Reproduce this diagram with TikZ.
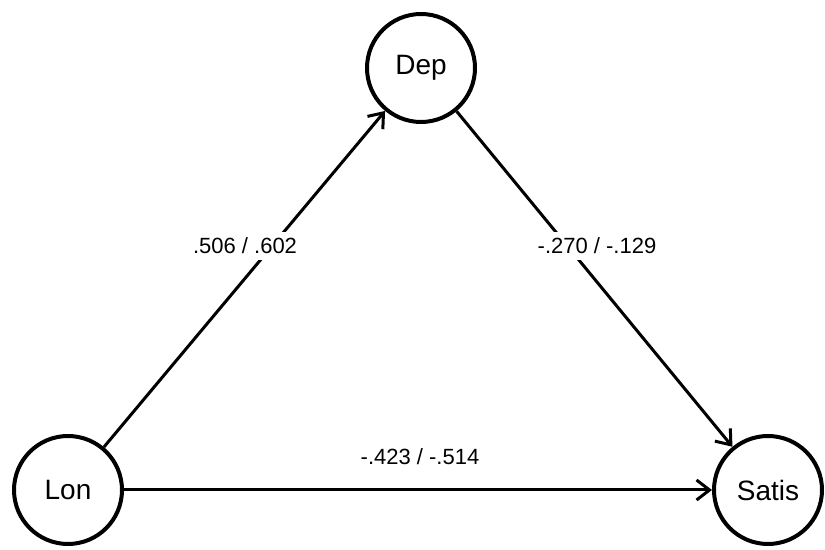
\documentclass[tikz,border=0pt]{standalone}
\usepackage{fontspec}
\setmainfont{Liberation Sans}
\usetikzlibrary{arrows.meta}
\begin{document}
\begin{tikzpicture}[x=0.5pt,y=-0.5pt,
  var/.style={circle,draw=black,line width=2pt,minimum size=54pt,inner sep=0pt,font=\fontsize{14}{16}\selectfont},
  path/.style={line width=1.5pt,-{Straight Barb[length=6.5pt,width=10pt,line width=1.5pt]}},
  coef/.style={fill=white,inner sep=3pt,font=\fontsize{11}{13}\selectfont}]
\useasboundingbox (0,0) rectangle (825,550);
\node[var] (dep) at (421,68) {Dep};
\node[var] (lon) at (68,490) {Lon};
\node[var] (satis) at (768,490) {Satis};
\draw[path] (lon) -- (dep);
\draw[path] (dep) -- (satis);
\draw[path] (lon) -- (satis);
\node[coef] (l1) at (245,246) {.506 / .602};
\node[coef] (l2) at (597,246) {-.270 / -.129};
\node[coef,fill=none] (l3) at (420,457) {-.423 / -.514};
\end{tikzpicture}
\end{document}
